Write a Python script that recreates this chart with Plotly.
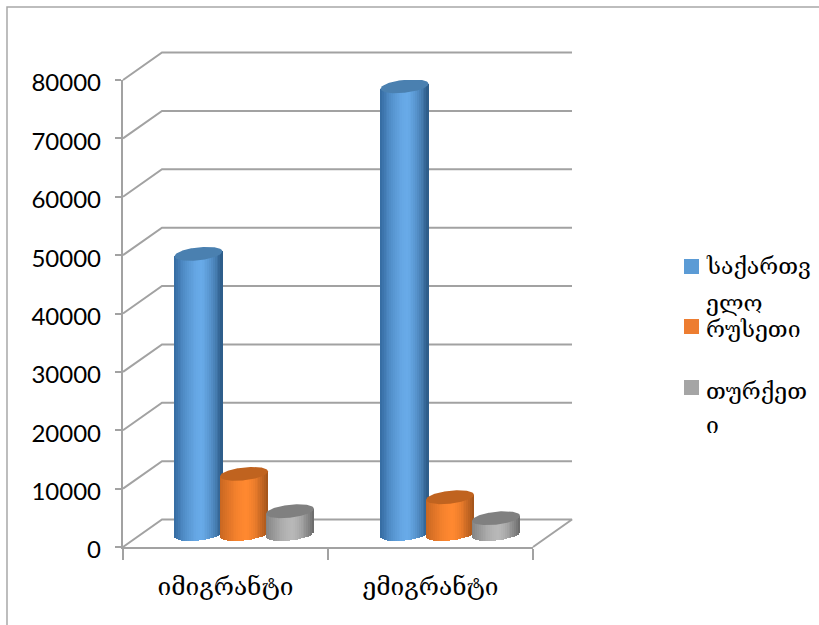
import math
import plotly.graph_objects as go

# ---- data ----
categories = ["იმიგრანტი", "ემიგრანტი"]
series_names = ["საქართველო", "რუსეთი", "თურქეთი"]
georgia = [48000, 76700]
russia = [10300, 6300]
turkey = [3900, 2700]
y_ticks = [0, 10000, 20000, 30000, 40000, 50000, 60000, 70000, 80000]

# ---- layout constants (pixels of the 819x625 window) ----
W, H = 819, 625
L, R, T, B = 123, 533, 80, 547
PX_X = (R - L) / 2.0          # pixels per category unit
PX_Y = (B - T) / 80000.0      # pixels per value unit
DEPTH_X = 39 / PX_X
DEPTH_Y = 27.5 / PX_Y
FLOOR_PX = 13                 # bars stand this far above the front floor edge
PAD = 4                       # pixel padding round the wall subplot
LABEL_DROP = 3                # value labels sit this far below their ticks

GRID = "#a2a2a2"
FONT_NUM = "Lato, Carlito, sans-serif"
FONT_KA = "DejaVu Serif, DejaVu Sans"

RX = 24 / PX_X
RY = 6.5 / PX_Y
TILT = 2.5 / PX_Y
GROUP_X = [0.59, 1.595]
SERIES_DX = [-45.5 / PX_X, 0.0, 46 / PX_X]
STRIPS = 26

# light (centre), dark left edge, dark right edge, cap
PALETTE = [
    ((104, 170, 232), (52, 106, 160), (42, 88, 132), "#4a80b0"),
    ((255, 136, 48), (196, 100, 32), (160, 82, 26), "#c0631f"),
    ((184, 184, 184), (128, 128, 128), (104, 104, 104), "#808080"),
]
SWATCH = ["#5b9bd5", "#ed7d31", "#a5a5a5"]


def shade(t, pal):
    c, l, r = pal[0], pal[1], pal[2]
    u = t - 0.1
    if u < 0:
        f = min(1.0, (-u / 1.1)) ** 1.6
        e = l
    else:
        f = min(1.0, (u / 0.9)) ** 1.6
        e = r
    rgb = [round(c[i] + (e[i] - c[i]) * f) for i in range(3)]
    return "rgb(%d,%d,%d)" % tuple(rgb)


fig = go.Figure()

# back wall + side-wall gridlines: base subplot (hidden axes, wider than the front axes)
for v in y_ticks:
    fig.add_trace(go.Scatter(
        x=[0, DEPTH_X, 2 + DEPTH_X] if v else [0, DEPTH_X, 2 + DEPTH_X, 2],
        y=[v, v + DEPTH_Y, v + DEPTH_Y] if v else [0, DEPTH_Y, DEPTH_Y, 0],
        mode="lines", line=dict(color=GRID, width=2),
        hoverinfo="skip", showlegend=False,
        xaxis="x", yaxis="y"))

# cylinders: thin vertical strips for the shading, on an overlaid axis
all_series = [georgia, russia, turkey]
for s, values in enumerate(all_series):
    step = 2.0 / STRIPS
    for k in range(STRIPS):
        t = -1 + step * (k + 0.5)
        arc = RY * math.sqrt(max(0.0, 1 - t * t))
        bases = [TILT * t - arc for _ in values]
        tops = [v + TILT * t for v in values]
        fig.add_trace(go.Bar(
            x=[GROUP_X[c] + SERIES_DX[s] + t * RX for c in range(len(values))],
            y=[tops[c] - bases[c] for c in range(len(values))],
            base=bases,
            width=RX * step * 1.4,
            marker=dict(color=shade(t, PALETTE[s]), line=dict(width=0)),
            hoverinfo="skip", showlegend=False,
            xaxis="x2", yaxis="y3"))

# elliptical caps
for s, values in enumerate(all_series):
    for c, v in enumerate(values):
        ts = [-1 + i / 30 for i in range(61)]
        xs, ys = [], []
        for t in ts:
            xs.append(GROUP_X[c] + SERIES_DX[s] + t * RX)
            ys.append(v + TILT * t + RY * math.sqrt(max(0.0, 1 - t * t)))
        for t in reversed(ts):
            xs.append(GROUP_X[c] + SERIES_DX[s] + t * RX)
            ys.append(v + TILT * t - RY * math.sqrt(max(0.0, 1 - t * t)))
        fig.add_trace(go.Scatter(
            x=xs, y=ys, mode="lines", fill="toself",
            fillcolor=PALETTE[s][3], line=dict(width=0, color=PALETTE[s][3]),
            hoverinfo="skip", showlegend=False,
            xaxis="x2", yaxis="y3"))


def px(x):
    return x / W


def py(y):
    return 1 - y / H


# outer frame
shapes = [dict(type="path", xref="paper", yref="paper",
               path="M %f %f L %f %f L %f %f" % (px(7), py(H + 5), px(7), py(7), px(W + 5), py(7)),
               line=dict(color="#a8a8a8", width=1.5))]

# legend
swatch_top = [259, 319, 380]
for i, top in enumerate(swatch_top):
    shapes.append(dict(type="rect", xref="paper", yref="paper",
                       x0=px(684), x1=px(699), y0=py(top), y1=py(top + 15),
                       fillcolor=SWATCH[i], line=dict(width=0)))
legend_lines = [("საქართვ", 266), ("ელო", 303), ("რუსეთი", 329), ("თურქეთ", 391), ("ი", 425)]
annotations = [dict(text=txt, xref="paper", yref="paper", x=px(704), y=py(yy),
                    xanchor="left", yanchor="middle", showarrow=False,
                    font=dict(family=FONT_KA, size=23, color="#000000"))
               for txt, yy in legend_lines]

fig.update_layout(
    width=W, height=H, autosize=False,
    paper_bgcolor="white", plot_bgcolor="rgba(0,0,0,0)",
    margin=dict(l=0, r=0, t=0, b=0, pad=0, autoexpand=False),
    barmode="overlay", showlegend=False, bargap=0,
    shapes=shapes, annotations=annotations,
    # hidden wall axes
    xaxis=dict(domain=[px(L - PAD), px(R + 40 + PAD)], automargin=False,
               range=[-PAD / PX_X, 2 + 40 / PX_X + PAD / PX_X], visible=False),
    yaxis=dict(domain=[py(B + PAD), py(T - 27.5 - PAD)], automargin=False,
               range=[-PAD / PX_Y, 80000 + DEPTH_Y + PAD / PX_Y], visible=False),
    # visible front axes
    xaxis2=dict(domain=[px(L), px(R)], anchor="y2", range=[0, 2], automargin=False,
                tickmode="array", tickvals=[0.5, 1.5], ticktext=categories,
                ticks="", showgrid=False, zeroline=False, showline=True,
                linecolor=GRID, linewidth=2, ticklabelstandoff=17,
                tickfont=dict(family=FONT_KA, size=24.5, color="#000000"),
                minor=dict(tickmode="array", tickvals=[0, 1, 2], ticks="outside",
                           ticklen=11, tickwidth=1.5, tickcolor=GRID, showgrid=False)),
    yaxis2=dict(domain=[py(B), py(T)], anchor="x2", range=[0, 80000], automargin=False,
                tickmode="array", tickvals=y_ticks, showticklabels=False,
                ticks="outside", ticklen=6, tickwidth=1.5, tickcolor=GRID,
                showgrid=False, zeroline=False, showline=True, linecolor=GRID, linewidth=2),
    yaxis3=dict(domain=[py(B), py(T)], anchor="x2", automargin=False,
                range=[-FLOOR_PX / PX_Y, 80000 - FLOOR_PX / PX_Y], overlaying="y2",
                visible=False, showgrid=False, zeroline=False),
    # value labels only, on an axis dropped a little below the ticks
    yaxis4=dict(domain=[py(B + LABEL_DROP), py(T + LABEL_DROP)], anchor="x2", range=[0, 80000],
                automargin=False, tickmode="array", tickvals=y_ticks, tickformat="d",
                ticks="", ticklabelstandoff=21, showgrid=False, zeroline=False, showline=False,
                tickfont=dict(family=FONT_NUM, size=24, color="#000000")),
)
# dummy points so the visible front axes exist as subplots of their own
fig.add_trace(go.Scatter(x=[None], y=[None], xaxis="x2", yaxis="y2", hoverinfo="skip", showlegend=False))
fig.add_trace(go.Scatter(x=[None], y=[None], xaxis="x2", yaxis="y4", hoverinfo="skip", showlegend=False))

fig.write_html("out.html", config=dict(displayModeBar=False),
               post_script="document.body.style.margin='0';")
